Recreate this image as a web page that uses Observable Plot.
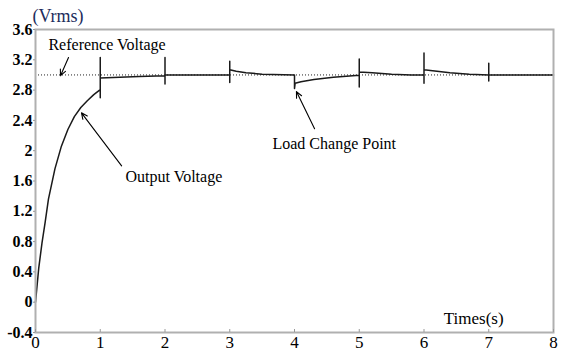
<!DOCTYPE html>
<html>
<head>
<meta charset="utf-8">
<script src="https://cdn.jsdelivr.net/npm/d3@7"></script>
<script src="https://cdn.jsdelivr.net/npm/@observablehq/plot@0.6"></script>
<style>
  html, body { margin: 0; padding: 0; background: #fff; }
  #chart svg { display: block; }
</style>
</head>
<body>
<div id="chart"></div>
<script>
// Output voltage (Vrms) vs time (s); repeated time values draw the vertical spikes
const times = [0, 0.02, 0.05, 0.1, 0.15, 0.2, 0.3, 0.4, 0.5, 0.6, 0.7, 0.8, 0.9, 0.99,
  1, 1, 1, 1, 1.3, 1.6, 2,
  2, 2, 2, 2.5, 3,
  3, 3, 3, 3.1, 3.25, 3.5, 4,
  4, 4.01, 4.1, 4.3, 4.6, 4.9, 5,
  5, 5, 5, 5.2, 5.5, 5.8, 6,
  6, 6, 6, 6.2, 6.4, 6.7, 7,
  7, 7, 7, 8];
const volts = [0, 0.18, 0.45, 0.78, 1.06, 1.36, 1.76, 2.06, 2.28, 2.45, 2.57, 2.66, 2.74, 2.80,
  2.80, 3.23, 2.70, 2.96, 2.97, 2.98, 2.99,
  3.23, 2.88, 3.0, 3.0, 3.0,
  3.18, 2.90, 3.07, 3.05, 3.03, 3.01, 3.0,
  2.82, 2.89, 2.91, 2.94, 2.97, 2.99, 2.995,
  3.21, 2.84, 3.04, 3.03, 3.01, 3.0, 3.0,
  3.29, 2.89, 3.07, 3.05, 3.03, 3.01, 3.0,
  3.155, 2.92, 3.0, 3.0];
const referenceVoltage = [3.0];

const xTicks = [0, 1, 2, 3, 4, 5, 6, 7, 8];
const yTicks = [-0.4, 0, 0.4, 0.8, 1.2, 1.6, 2, 2.4, 2.8, 3.2, 3.6];
const yTickLabels = ["-0.4", "0", "0.4", "0.8", "1.2", "1.6", "2", "2.4", "2.8", "3.2", "3.6"];

// Annotations (data coordinates)
const labelTexts = ["Reference Voltage", "Output Voltage", "Load Change Point"];
const labelT = [0.2, 1.39, 3.66];
const labelV = [3.40, 1.65, 2.095];
const arrowT1 = [0.51, 1.33, 4.31];
const arrowV1 = [3.23, 1.80, 2.29];
const arrowT2 = [0.386, 0.71, 4.03];
const arrowV2 = [2.99, 2.50, 2.78];

const series = times.map((t, i) => ({t, v: volts[i]}));
const labels = labelTexts.map((s, i) => ({s, t: labelT[i], v: labelV[i]}));
const arrows = arrowT1.map((t, i) => ({x1: t, y1: arrowV1[i], x2: arrowT2[i], y2: arrowV2[i]}));

const font = "'Liberation Serif', 'Times New Roman', serif";

const plot = Plot.plot({
  width: 564,
  height: 354,
  marginLeft: 35,
  marginRight: 11,
  marginTop: 29,
  marginBottom: 22,
  style: {fontFamily: font, background: "#fff", color: "#000"},
  x: {domain: [0, 8]},
  y: {domain: [-0.4, 3.6]},
  marks: [
    Plot.ruleY(referenceVoltage, {stroke: "#222", strokeWidth: 1, strokeDasharray: "1,2"}),
    Plot.line(series, {x: "t", y: "v", stroke: "#1a1a1a", strokeWidth: 1.5, curve: "linear"}),
    Plot.frame({stroke: "#b0b0b0", strokeWidth: 2}),
    Plot.axisX({ticks: xTicks, tickSize: -3, stroke: "#999", tickFormat: d => String(d),
      fontSize: 17, tickPadding: 6, fill: "#000"}),
    Plot.axisY({ticks: yTicks, tickSize: 2, stroke: "#999",
      tickFormat: d => yTickLabels[yTicks.indexOf(d)], fontSize: 16, fontWeight: "bold",
      tickPadding: 1, fill: "#000"}),
    Plot.text(labels, {x: "t", y: "v", text: "s", textAnchor: "start", fontSize: 16, fill: "#000"}),
    Plot.arrow(arrows, {x1: "x1", y1: "y1", x2: "x2", y2: "y2", stroke: "#000", strokeWidth: 1.1,
      headLength: 9, headAngle: 50}),
    Plot.text(["(Vrms)"], {frameAnchor: "top-left", dx: -3, dy: -20, textAnchor: "start",
      fontSize: 18, fill: "#1c2c5c"}),
    Plot.text(["Times(s)"], {x: [7.23], y: [-0.215], textAnchor: "end", fontSize: 17, fill: "#000"})
  ]
});
document.getElementById("chart").appendChild(plot);
</script>
</body>
</html>
